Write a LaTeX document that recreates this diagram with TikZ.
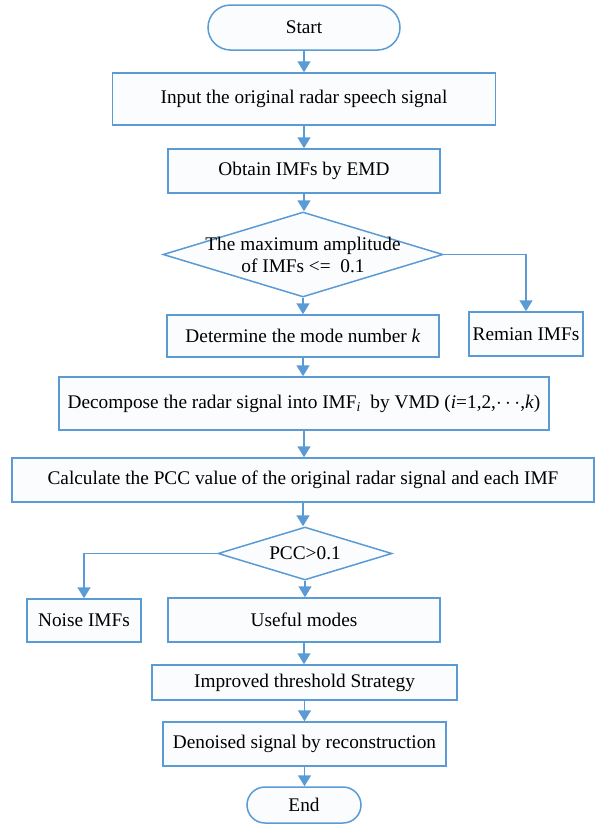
\documentclass[tikz,border=0pt]{standalone}
\usepackage{fontspec}
\setmainfont{Liberation Serif}
\usetikzlibrary{shapes.geometric,shapes.misc,arrows.meta}
\definecolor{flowblue}{RGB}{91,155,213}
\definecolor{boxfill}{RGB}{250,252,254}
\tikzset{
  box/.style={draw=flowblue,fill=boxfill,line width=1.5pt,inner sep=0pt,
    font=\fontsize{19.3}{22}\selectfont},
  term/.style={box,rounded rectangle},
  decision/.style={box,diamond},
  txt/.style={inner sep=0pt,align=center,font=\fontsize{19.3}{22}\selectfont},
  flow/.style={draw=flowblue,line width=1.6pt,-{Triangle[width=13pt,length=11pt]}}
}
\begin{document}
\begin{tikzpicture}[x=1pt,y=-1pt]
  \useasboundingbox (0,0) rectangle (597,825);
  % main column
  \node[term,minimum width=192,minimum height=45] (start) at (304,27.5) {Start};
  \node[box,minimum width=383,minimum height=52] (input) at (304,99) {Input the original radar speech signal};
  \node[box,minimum width=272,minimum height=44] (obtain) at (304,171) {Obtain IMFs by EMD};
  \node[decision,minimum width=280,minimum height=85] (amp) at (303,254.5) {};
  \node[txt] (amptext) at (303,254.5) {The maximum amplitude\\of IMFs <=\ \ 0.1};
  \node[box,minimum width=272,minimum height=42] (mode) at (303,336) {Determine the mode number \textit{k}};
  \node[box,minimum width=114,minimum height=44] (remain) at (526,334) {Remian IMFs};
  \node[box,minimum width=490,minimum height=53] (vmd) at (304,403.5)
    {Decompose the radar signal into IMF\textsubscript{\textit{i}}\ \ by VMD (\textit{i}=1,2,$\cdots$,\textit{k})};
  \node[box,minimum width=582,minimum height=44] (pcc) at (303,480)
    {Calculate the PCC value of the original radar signal and each IMF};
  \node[decision,minimum width=174,minimum height=53] (thr) at (305,553.5) {};
  \node[txt] (thrtext) at (305,553.5) {PCC>0.1};
  \node[box,minimum width=114,minimum height=43] (noise) at (84,620.5) {Noise IMFs};
  \node[box,minimum width=272,minimum height=44] (useful) at (304,620) {Useful modes};
  \node[box,minimum width=305,minimum height=35] (improve) at (304.5,682.5) {Improved threshold Strategy};
  \node[box,minimum width=283,minimum height=44] (denoise) at (304.5,744) {Denoised signal by reconstruction};
  \node[term,minimum width=114,minimum height=36] (end) at (304,805) {End};
  % connectors
  \foreach \a/\b in {start/input,input/obtain,obtain/amp,amp/mode,mode/vmd,vmd/pcc,
                     pcc/thr,thr/useful,useful/improve,improve/denoise,denoise/end}
    \draw[flow] (\a.south) -- (\a.south |- \b.north);
  \draw[flow] (amp.east) -| (remain.north);
  \draw[flow] (thr.west) -| (noise.north);
\end{tikzpicture}
\end{document}
